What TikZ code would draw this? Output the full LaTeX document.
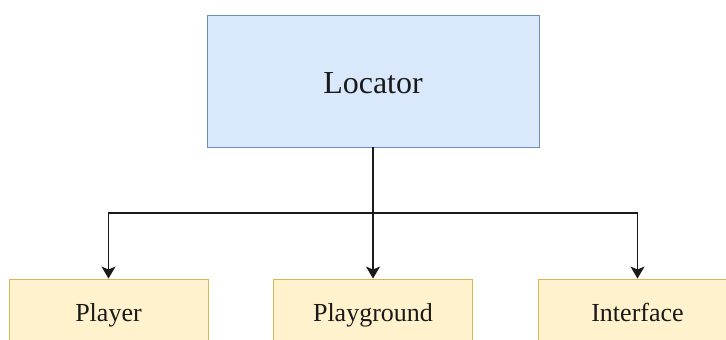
\documentclass[tikz,border=0pt]{standalone}
\usepackage{fontspec}
\setmainfont{Liberation Serif}
\usetikzlibrary{arrows.meta}
\definecolor{bluefill}{HTML}{DAE8FC}
\definecolor{blueline}{HTML}{6C8EBF}
\definecolor{yelfill}{HTML}{FFF2CC}
\definecolor{yelline}{HTML}{D6B656}
\definecolor{ink}{HTML}{1A1A1A}
\tikzset{
  topbox/.style={draw=blueline, fill=bluefill, line width=0.9pt, minimum width=332pt, minimum height=132pt, inner sep=0pt, font=\fontsize{32}{36}\selectfont, text=ink, text height=24pt, text depth=0pt},
  subbox/.style={draw=yelline, fill=yelfill, line width=0.9pt, minimum width=199pt, minimum height=72pt, inner sep=0pt, font=\fontsize{26}{30}\selectfont, text=ink, text height=18pt, text depth=6pt},
  conn/.style={draw=ink, line width=1.3pt},
  arr/.style={conn, -{Stealth[length=12pt, width=14pt, inset=3pt]}}
}
\begin{document}
\begin{tikzpicture}[x=1pt, y=-1pt]
\useasboundingbox (0,0) rectangle (726,340);
\clip (0,0) rectangle (726,340);
\fill[white] (0,0) rectangle (726,340);
\node[topbox] (loc) at (373,81) {Locator};
\node[subbox] (player) at (108.5,315) {Player};
\node[subbox] (pg) at (373,315) {Playground};
\node[subbox] (intf) at (637.5,315) {Interface};
\coordinate (j) at (373,213);
\draw[conn] (loc.south) -- (j);
\draw[arr] (j) -| (player.north);
\draw[arr] (j) -- (pg.north);
\draw[arr] (j) -| (intf.north);
\end{tikzpicture}
\end{document}
